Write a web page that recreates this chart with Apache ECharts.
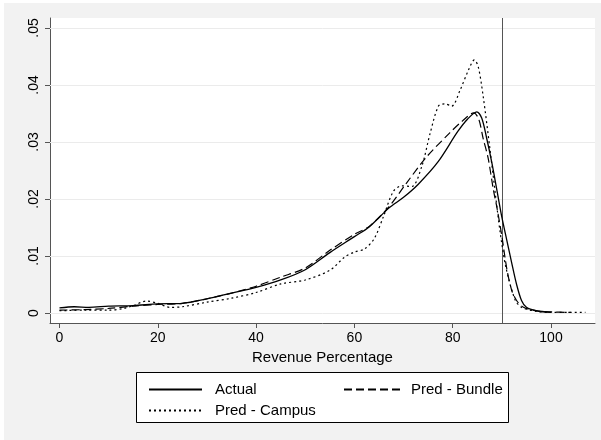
<!DOCTYPE html>
<html>
<head>
<meta charset="utf-8">
<script src="https://cdn.jsdelivr.net/npm/echarts@6/dist/echarts.min.js"></script>
<style>html,body{margin:0;padding:0;background:#fff;}#c{width:601px;height:440px;}</style>
</head>
<body>
<div id="c"></div>
<script>
// ---- data ----
var xTicks = [0, 20, 40, 60, 80, 100];
var yTicks = [0, 0.01, 0.02, 0.03, 0.04, 0.05];
var yTickLabels = ['0', '.01', '.02', '.03', '.04', '.05'];
var cutoff = 90;

var actualX = [0, 3, 6, 10, 15, 20, 25, 30, 35, 40, 45, 50, 55, 60, 63, 67, 70, 73, 77, 81, 83, 84.9, 85.9, 86.9, 88, 89, 90, 91, 92, 93, 94, 95, 97, 100];
var actualY = [0.0009, 0.0011, 0.0010, 0.0012, 0.0013, 0.0016, 0.0017, 0.0025, 0.0035, 0.0045, 0.0058, 0.0076, 0.0106, 0.0134, 0.0151, 0.0184, 0.0203, 0.0226, 0.0265, 0.0318, 0.0340, 0.0353, 0.0342, 0.0307, 0.0262, 0.0215, 0.0168, 0.0128, 0.0088, 0.0050, 0.0022, 0.0010, 0.0004, 0.0001];

var bundleX = [0, 5, 10, 15, 20, 25, 30, 35, 40, 45, 50, 55, 60, 63, 67, 70.6, 74.7, 79.4, 82, 84.3, 85.3, 86.2, 87.2, 88.3, 89, 90, 91, 92, 93, 94.4, 97, 100, 104];
var bundleY = [0.0005, 0.0006, 0.0008, 0.0012, 0.0015, 0.0017, 0.0025, 0.0035, 0.0047, 0.0063, 0.0079, 0.0110, 0.0138, 0.0152, 0.0186, 0.0228, 0.0274, 0.0316, 0.0337, 0.0351, 0.0340, 0.0306, 0.0272, 0.0215, 0.0185, 0.0135, 0.0078, 0.0040, 0.0022, 0.0010, 0.0004, 0.0002, 0.0001];

var campusX = [0, 5, 10, 13, 15, 17.7, 20, 22.5, 25, 30, 35, 40, 45, 50, 55, 58, 60, 62, 64, 65.9, 67.9, 69.6, 71.7, 73.7, 75.4, 77.1, 78.4, 79.8, 81.5, 83.2, 84.4, 85.2, 86.2, 87.6, 88.8, 89.6, 90.8, 92.7, 94, 97, 100, 107];
var campusY = [0.0004, 0.0005, 0.0005, 0.0008, 0.0013, 0.0021, 0.0017, 0.0010, 0.0011, 0.0019, 0.0026, 0.0036, 0.0051, 0.0058, 0.0075, 0.0098, 0.0107, 0.0112, 0.0130, 0.0169, 0.0213, 0.0223, 0.0222, 0.0257, 0.0315, 0.0363, 0.0367, 0.0363, 0.0391, 0.0426, 0.0444, 0.0432, 0.0380, 0.0286, 0.0200, 0.0145, 0.0081, 0.0023, 0.0010, 0.0003, 0.0001, 0.0001];

function pairs(xs, ys) { return xs.map(function (x, i) { return [x, ys[i]]; }); }

var FONT = 'Liberation Sans, Arial, Helvetica, sans-serif';
var chart = echarts.init(document.getElementById('c'), null, { renderer: 'canvas' });

var legendItemStyle = { color: 'rgba(0,0,0,0)', borderWidth: 0, opacity: 0 };

var option = {
  backgroundColor: '#f2f2f2',
  animation: false,
  textStyle: { fontFamily: FONT, color: '#000' },
  graphic: [
    { type: 'rect', left: 0, top: 0, shape: { width: 601, height: 3 }, style: { fill: '#fff' }, silent: true },
    { type: 'rect', left: 0, top: 0, shape: { width: 4, height: 440 }, style: { fill: '#fff' }, silent: true },
    { type: 'rect', left: 136, top: 372, shape: { width: 372, height: 50 }, style: { fill: '#fff', stroke: '#000', lineWidth: 1 }, silent: true, z: 0 }
  ],
  grid: { left: 50, top: 18, width: 545, height: 305, show: true, backgroundColor: '#fff', borderWidth: 0 },
  legend: [
    {
      data: ['Actual', 'Pred - Campus'], orient: 'vertical', left: 143, top: 377, itemWidth: 53, itemHeight: 14, itemGap: 6,
      itemStyle: legendItemStyle,
      textStyle: { fontSize: 15, fontFamily: FONT, color: '#000', padding: [0, 0, 0, 8] }, z: 5
    },
    {
      data: ['Pred - Bundle'], orient: 'vertical', left: 338, top: 377, itemWidth: 57, itemHeight: 14,
      itemStyle: legendItemStyle,
      textStyle: { fontSize: 15, fontFamily: FONT, color: '#000', padding: [0, 0, 0, 5] }, z: 5
    }
  ],
  xAxis: {
    type: 'value', min: -1.93, max: 108.95,
    name: 'Revenue Percentage', nameLocation: 'middle', nameGap: 22,
    nameTextStyle: { fontSize: 15, fontFamily: FONT, color: '#000' },
    axisLine: { show: true, onZero: false, lineStyle: { color: '#555', width: 1 } },
    axisTick: { show: true, length: 5, customValues: xTicks, lineStyle: { color: '#555' } },
    axisLabel: { customValues: xTicks, fontSize: 14, fontFamily: FONT, color: '#000', margin: 8 },
    splitLine: { show: false }
  },
  yAxis: {
    type: 'value', min: -0.00175, max: 0.05175,
    axisLine: { show: true, onZero: false, lineStyle: { color: '#555', width: 1 } },
    axisTick: { show: true, length: 5, customValues: yTicks, lineStyle: { color: '#555' } },
    axisLabel: {
      customValues: yTicks, rotate: 90, fontSize: 14, fontFamily: FONT, color: '#000', margin: 9,
      formatter: function (v) { var i = yTicks.findIndex(function (t) { return Math.abs(t - v) < 1e-9; }); return i >= 0 ? yTickLabels[i] : ''; }
    },
    splitLine: { show: false }
  },
  series: [
    {
      name: 'Actual', type: 'line', data: pairs(actualX, actualY), smooth: 0.3, symbol: 'none', showSymbol: false,
      lineStyle: { color: '#000', width: 1.3, type: 'solid' }, itemStyle: { color: '#000' }, z: 4,
      markLine: {
        silent: true, symbol: 'none', label: { show: false }, animation: false,
        data: yTicks.map(function (v) { return { yAxis: v, lineStyle: { color: '#ebebeb', width: 1, type: 'solid' } }; })
          .concat([{ xAxis: cutoff, lineStyle: { color: '#555', width: 1, type: 'solid' } }]),
        z: 1
      }
    },
    {
      name: 'Pred - Bundle', type: 'line', data: pairs(bundleX, bundleY), smooth: 0.3, symbol: 'none', showSymbol: false,
      lineStyle: { color: '#000', width: 1.2, type: [8, 4] }, itemStyle: { color: '#000' }, z: 3
    },
    {
      name: 'Pred - Campus', type: 'line', data: pairs(campusX, campusY), smooth: 0.3, symbol: 'none', showSymbol: false,
      lineStyle: { color: '#000', width: 1.2, type: [2, 3] }, itemStyle: { color: '#000' }, z: 3
    }
  ]
};
chart.setOption(option);
</script>
</body>
</html>
